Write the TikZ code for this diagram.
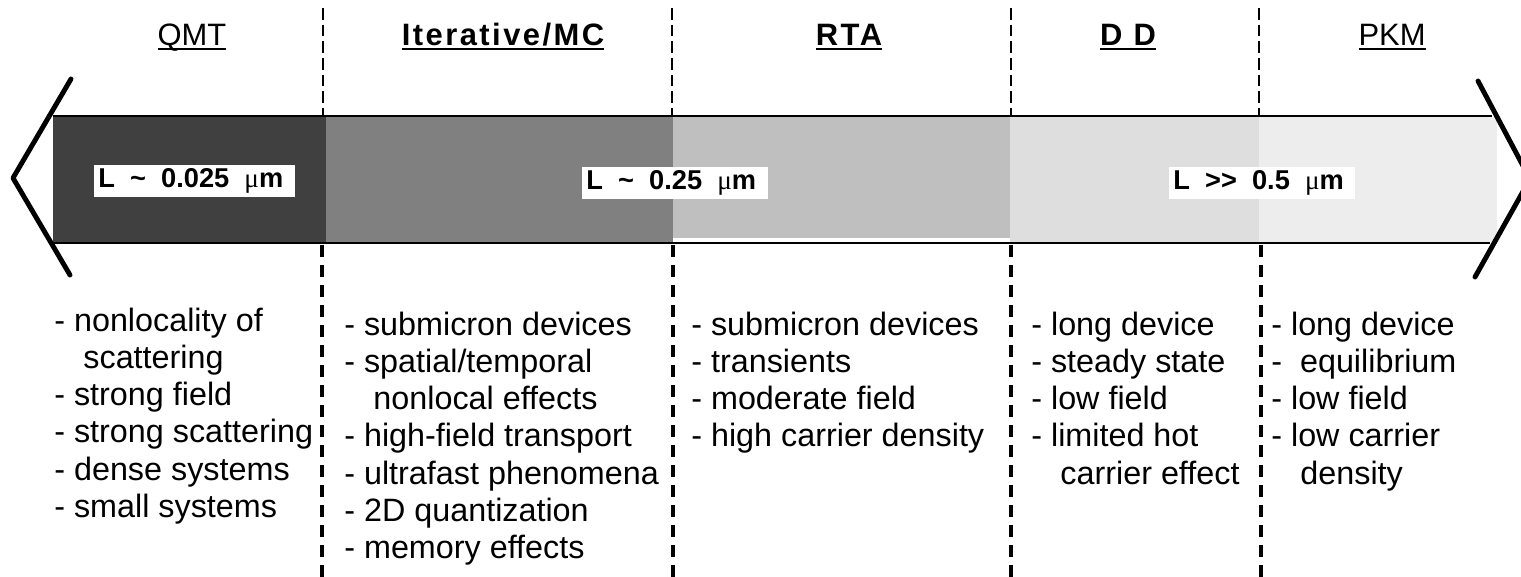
\documentclass[tikz,border=0pt]{standalone}
\usepackage{fontspec}
\setmainfont{Liberation Sans}
\newfontfamily\spacedsans{Liberation Sans}[LetterSpace=8]
\newfontfamily\greekserif{Liberation Serif}
\newcommand{\hdul}[1]{\setbox0=\hbox{#1}\rlap{\rule[-2.4pt]{\wd0}{1.1pt}}\box0}
\newcommand{\mum}{{\greekserif\mdseries μ}m}
\begin{document}
\begin{tikzpicture}[x=0.02cm,y=-0.02cm,
    bar/.style={line width=1.6pt},
    tip/.style={line width=2.8pt,line cap=round,line join=round},
    upper/.style={line width=0.9pt,dash pattern=on 0.234cm off 0.1cm},
    lower/.style={line width=1.8pt,dash pattern=on 0.24cm off 0.16cm},
    head/.style={anchor=base,inner sep=0pt,font=\fontsize{17.6}{20}\selectfont},
    size/.style={anchor=west,fill=white,inner xsep=0.08cm,inner ysep=0pt,minimum height=0.64cm,font=\fontsize{15.5}{17}\selectfont\bfseries},
    list/.style={anchor=north west,inner sep=0pt,align=left,font=\fontsize{18.4}{21.1}\selectfont}]
    \useasboundingbox (0,0) rectangle (1521,577);

    % bar segments
    \fill[black!75] (53,117) rectangle (326,242);
    \fill[black!50] (326,117) rectangle (673,242);
    \fill[black!25] (673,117) rectangle (1010,238);
    \fill[black!13] (1010,117) rectangle (1259,242);
    \fill[black!7] (1259,117) rectangle (1497,242);

    % bar lines
    \draw[bar] (53,116) -- (1492,116);
    \draw[bar] (53,243) -- (1490,243);

    % arrow tips
    \draw[tip] (71,79) -- (13,178) -- (70,275);
    \draw[tip] (1478,81) -- (1530,179) -- (1475,277);

    % dashed borders above
    \draw[upper] (323,8) -- (323,115);
    \draw[upper] (672,8) -- (672,115);
    \draw[upper] (1011,8) -- (1011,115);
    \draw[upper] (1259,8) -- (1259,115);

    % dashed borders below
    \draw[lower] (322,245) -- (322,577);
    \draw[lower] (673,245) -- (673,577);
    \draw[lower] (1011,245) -- (1011,577);
    \draw[lower] (1261,245) -- (1261,577);

    % methods
    \node[head] (qmt) at (192,46) {\hdul{QMT}};
    \node[head] (mc) at (503,46) {\hdul{\bfseries\spacedsans Iterative/MC}};
    \node[head] (rta) at (849,46) {\hdul{\bfseries\spacedsans RTA}};
    \node[head] (dd) at (1128,46) {\hdul{\bfseries\spacedsans D D}};
    \node[head] (pkm) at (1392,46) {\hdul{PKM}};

    % device lengths
    \node[size] (lqmt) at (94,181) {L\ \ \textasciitilde\ \ 0.025\ \ \mum\ \ };
    \node[size] (lmc) at (582,183) {L\ \ \textasciitilde\ \ 0.25\ \ \mum\ \ };
    \node[size] (ldd) at (1169,183) {L\ \ >{}>\ \ 0.5\ \ \mum\ \ };

    % features
    \node[list] (qmtlist) at (54,308) {- nonlocality of\\\hspace*{0.9em}scattering\\- strong field\\- strong scattering\\- dense systems\\- small systems};
    \node[list] (mclist) at (344,312) {- submicron devices\\- spatial/temporal\\\hspace*{0.9em}nonlocal effects\\- high-field transport\\- ultrafast phenomena\\- 2D quantization\\- memory effects};
    \node[list] (rtalist) at (691,312) {- submicron devices\\- transients\\- moderate field\\- high carrier density};
    \node[list] (ddlist) at (1031,312) {- long device\\- steady state\\- low field\\- limited hot\\\hspace*{0.9em}carrier effect};
    \node[list] (pkmlist) at (1271,312) {- long device\\- \ equilibrium\\- low field\\- low carrier\\\hspace*{0.9em}density};
\end{tikzpicture}
\end{document}
